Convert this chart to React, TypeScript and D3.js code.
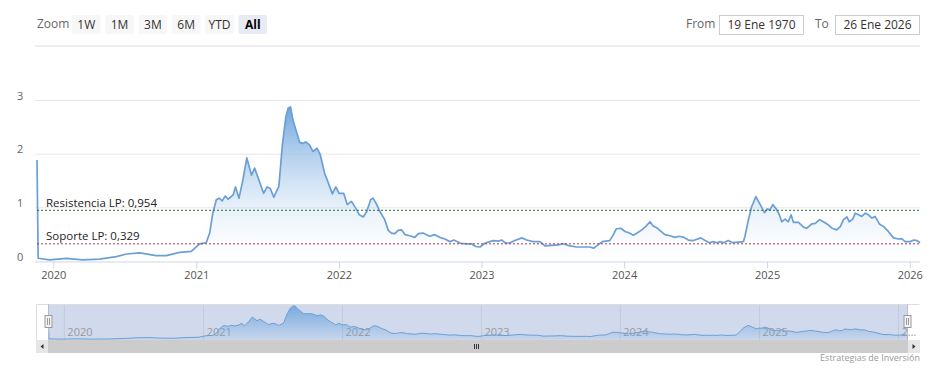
import * as React from 'react';
import * as d3 from 'd3';

const dates = [
  '2019-11-19', '2019-11-22', '2019-12-21', '2020-02-02', '2020-03-15', '2020-04-27', '2020-06-09', '2020-07-05',
  '2020-08-08', '2020-09-19', '2020-10-15', '2020-11-18', '2020-12-18', '2021-01-08', '2021-01-25', '2021-02-03',
  '2021-02-11', '2021-02-20', '2021-02-27', '2021-03-07', '2021-03-15', '2021-03-22', '2021-04-04', '2021-04-10',
  '2021-04-19', '2021-04-29', '2021-05-09', '2021-05-21', '2021-05-29', '2021-06-09', '2021-06-21', '2021-06-30',
  '2021-07-08', '2021-07-17', '2021-07-30', '2021-08-08', '2021-08-17', '2021-08-23', '2021-08-29', '2021-09-04',
  '2021-09-13', '2021-09-21', '2021-09-30', '2021-10-07', '2021-10-17', '2021-10-25', '2021-11-05', '2021-11-13',
  '2021-11-24', '2021-12-07', '2021-12-14', '2021-12-23', '2021-12-31', '2022-01-12', '2022-01-21', '2022-02-01',
  '2022-02-12', '2022-02-21', '2022-03-03', '2022-03-12', '2022-03-22', '2022-03-28', '2022-04-06', '2022-04-14',
  '2022-04-27', '2022-05-06', '2022-05-14', '2022-05-23', '2022-05-31', '2022-06-09', '2022-06-18', '2022-06-30',
  '2022-07-13', '2022-07-22', '2022-08-03', '2022-08-20', '2022-09-02', '2022-09-15', '2022-09-28', '2022-10-11',
  '2022-10-21', '2022-11-07', '2022-11-22', '2022-12-05', '2022-12-16', '2022-12-27', '2023-01-08', '2023-01-21',
  '2023-01-30', '2023-02-12', '2023-02-20', '2023-03-03', '2023-03-14', '2023-03-26', '2023-04-13', '2023-04-25',
  '2023-05-12', '2023-05-29', '2023-06-11', '2023-06-28', '2023-07-15', '2023-07-28', '2023-08-14', '2023-08-31',
  '2023-09-17', '2023-10-04', '2023-10-14', '2023-10-25', '2023-11-05', '2023-11-24', '2023-12-03', '2023-12-11',
  '2023-12-22', '2024-01-02', '2024-01-13', '2024-01-23', '2024-02-02', '2024-02-14', '2024-02-25', '2024-03-06',
  '2024-03-14', '2024-03-23', '2024-03-31', '2024-04-13', '2024-04-26', '2024-05-09', '2024-05-20', '2024-06-01',
  '2024-06-12', '2024-06-25', '2024-07-14', '2024-07-25', '2024-08-05', '2024-08-15', '2024-08-24', '2024-09-01',
  '2024-09-11', '2024-09-22', '2024-10-04', '2024-10-18', '2024-10-31', '2024-11-04', '2024-11-13', '2024-11-21',
  '2024-12-02', '2024-12-13', '2024-12-24', '2024-12-31', '2025-01-07', '2025-01-14', '2025-01-23', '2025-01-31',
  '2025-02-06', '2025-02-15', '2025-02-23', '2025-03-02', '2025-03-08', '2025-03-21', '2025-04-03', '2025-04-11',
  '2025-04-24', '2025-05-03', '2025-05-14', '2025-05-26', '2025-06-06', '2025-06-15', '2025-06-27', '2025-07-06',
  '2025-07-14', '2025-07-23', '2025-07-29', '2025-08-07', '2025-08-13', '2025-08-22', '2025-08-30', '2025-09-08',
  '2025-09-16', '2025-09-25', '2025-10-03', '2025-10-14', '2025-10-25', '2025-11-06', '2025-11-19', '2025-12-02',
  '2025-12-11', '2025-12-19', '2026-01-01', '2026-01-10', '2026-01-18', '2026-01-26',
];

const values = [
  1.89, 0.06, 0.03, 0.06, 0.03, 0.045, 0.09, 0.14,
  0.16, 0.11, 0.11, 0.17, 0.19, 0.33, 0.35, 0.53,
  0.90, 1.15, 1.18, 1.13, 1.22, 1.16, 1.24, 1.39,
  1.18, 1.52, 1.93, 1.61, 1.74, 1.52, 1.27, 1.39,
  1.36, 1.20, 1.40, 2.17, 2.70, 2.86, 2.88, 2.64,
  2.42, 2.22, 2.20, 2.23, 2.17, 2.05, 2.11, 1.99,
  1.65, 1.40, 1.26, 1.39, 1.27, 1.27, 1.06, 1.12,
  0.99, 0.87, 0.83, 0.93, 1.15, 1.18, 1.07, 0.94,
  0.78, 0.58, 0.53, 0.52, 0.58, 0.59, 0.50, 0.48,
  0.45, 0.52, 0.53, 0.47, 0.50, 0.45, 0.42, 0.37,
  0.40, 0.34, 0.33, 0.33, 0.28, 0.27, 0.34, 0.37,
  0.39, 0.38, 0.40, 0.34, 0.35, 0.39, 0.44, 0.40,
  0.37, 0.37, 0.29, 0.30, 0.31, 0.33, 0.29, 0.27,
  0.27, 0.27, 0.25, 0.31, 0.37, 0.39, 0.50, 0.61,
  0.62, 0.56, 0.53, 0.49, 0.53, 0.59, 0.66, 0.74,
  0.66, 0.63, 0.58, 0.50, 0.48, 0.45, 0.47, 0.45,
  0.40, 0.39, 0.44, 0.39, 0.35, 0.37, 0.35, 0.37,
  0.35, 0.39, 0.35, 0.36, 0.37, 0.47, 0.78, 1.02,
  1.21, 1.06, 0.91, 0.98, 0.96, 1.06, 0.98, 0.87,
  0.74, 0.79, 0.74, 0.87, 0.73, 0.73, 0.64, 0.62,
  0.70, 0.71, 0.78, 0.73, 0.68, 0.62, 0.59, 0.65,
  0.78, 0.83, 0.74, 0.79, 0.90, 0.87, 0.84, 0.90,
  0.87, 0.81, 0.84, 0.70, 0.65, 0.56, 0.44, 0.42,
  0.42, 0.37, 0.37, 0.40, 0.39, 0.35,
];

const yTicks = [0, 1, 2, 3];
const yearTicks = [2020, 2021, 2022, 2023, 2024, 2025, 2026];
const rangeButtons = ['1W', '1M', '3M', '6M', 'YTD', 'All'];
const plotLineValues = [0.954, 0.329];
const plotLineLabels = ['Resistencia LP: 0,954', 'Soporte LP: 0,329'];
const plotLineColors = ['#2f6e36', '#a8384c'];
const fromDate = '19 Ene 1970';
const toDate = '26 Ene 2026';

const W = 938, H = 375;
const FONT = '"Open Sans", "DejaVu Sans", sans-serif';

export default function App() {
  const parse = d3.timeParse('%Y-%m-%d');
  const data = dates.map((d, i) => ({ date: parse(d) as Date, value: values[i] }));

  const left = 37, right = 920;
  const x = d3.scaleTime()
    .domain(d3.extent(data, d => d.date) as [Date, Date])
    .range([left, right]);
  const y = d3.scaleLinear().domain([0, 3]).range([261.5, 100.5]);

  const navX = d3.scaleTime().domain(x.domain()).range([48, 908]);
  const navY = d3.scaleLinear().domain([0, 3]).range([339.5, 304.5]);

  const line = d3.line<any>().x(d => x(d.date)).y(d => y(d.value));
  const area = d3.area<any>().x(d => x(d.date)).y0(y(0)).y1(d => y(d.value));
  const navLine = d3.line<any>().x(d => navX(d.date)).y(d => navY(d.value));
  const navArea = d3.area<any>().x(d => navX(d.date)).y0(navY(0)).y1(d => navY(d.value));

  const btnStep = 33.3;

  return (
    <svg width={W} height={H} style={{ position: 'absolute', left: 0, top: 0, fontFamily: FONT }}>
      <defs>
        <linearGradient id="areaGrad" x1="0" y1="0" x2="0" y2="1">
          <stop offset="0" stopColor="#6ea6dd" stopOpacity={1} />
          <stop offset="1" stopColor="#ffffff" stopOpacity={0.2} />
        </linearGradient>
        <linearGradient id="navGrad" x1="0" y1="0" x2="0" y2="1">
          <stop offset="0" stopColor="#6ea6dd" stopOpacity={0.9} />
          <stop offset="1" stopColor="#6ea6dd" stopOpacity={0.1} />
        </linearGradient>
      </defs>
      <rect width={W} height={H} fill="#fff" />

      {/* range selector */}
      <text x={37} y={28} fontSize={12} fill="#666">Zoom</text>
      {rangeButtons.map((b, i) => (
        <g key={b}>
          <rect x={72 + i * btnStep} y={15} width={28.5} height={19} rx={2}
            fill={b === 'All' ? '#e6ebf5' : '#f7f7f7'} />
          <text x={72 + i * btnStep + 14.25} y={28.5} fontSize={12} textAnchor="middle"
            fill={b === 'All' ? '#000' : '#333'} fontWeight={b === 'All' ? 'bold' : 'normal'}>{b}</text>
        </g>
      ))}
      <text x={686} y={28} fontSize={12} fill="#666">From</text>
      <rect x={719.5} y={15.5} width={84} height={19} fill="#fff" stroke="#ccc" />
      <text x={761.5} y={29} fontSize={12} textAnchor="middle" fill="#333">{fromDate}</text>
      <text x={815} y={28} fontSize={12} fill="#666">To</text>
      <rect x={835.5} y={15.5} width={84} height={19} fill="#fff" stroke="#ccc" />
      <text x={877.5} y={29} fontSize={12} textAnchor="middle" fill="#333">{toDate}</text>

      {/* grid */}
      <line x1={35} x2={right} y1={46} y2={46} stroke="#eee" strokeWidth={2} />
      {yTicks.filter(t => t > 0).map(t => (
        <line key={t} x1={35} x2={right} y1={y(t)} y2={y(t)} stroke="#e6e6e6" />
      ))}
      {yTicks.map(t => (
        <text key={t} x={17} y={y(t) - 1} fontSize={11} fill="#666">{t}</text>
      ))}

      {/* series */}
      <path d={area(data) as string} fill="url(#areaGrad)" />
      <path d={line(data) as string} fill="none" stroke="#6b9fd5" strokeWidth={1.7} strokeLinejoin="round" />

      {/* plot lines */}
      {plotLineValues.map((v, i) => (
        <g key={v}>
          <line x1={left} x2={right} y1={y(v)} y2={y(v)} stroke={plotLineColors[i]}
            strokeWidth={1} strokeDasharray="2,2" />
          <text x={46} y={y(v) - 3.5} fontSize={11.5} fill="#222">{plotLineLabels[i]}</text>
        </g>
      ))}

      {/* x axis */}
      <line x1={35} x2={right} y1={y(0) + 0.5} y2={y(0) + 0.5} stroke="#ccd6eb" />
      {yearTicks.map(yr => {
        const xx = x(new Date(yr, 0, 1));
        return (
          <g key={yr}>
            <line x1={xx} x2={xx} y1={y(0)} y2={y(0) + 7} stroke="#ccd6eb" />
            <text x={xx} y={279} fontSize={11} textAnchor="middle" fill="#555">{yr}</text>
          </g>
        );
      })}

      {/* navigator */}
      <rect x={48} y={304} width={860} height={36} fill="rgba(102,133,194,0.3)" />
      {yearTicks.map(yr => {
        const xx = navX(new Date(yr, 0, 1));
        return (
          <g key={yr}>
            <line x1={xx} x2={xx} y1={304} y2={340} stroke="#c4cad8" />
            <text x={xx + 3} y={336} fontSize={11} fill="#999">{yr === 2026 ? '2…' : yr}</text>
          </g>
        );
      })}
      <path d={navArea(data) as string} fill="url(#navGrad)" />
      <path d={navLine(data) as string} fill="none" stroke="#6b9fd5" strokeWidth={1} />
      <path d="M36.5,340 L36.5,304.5 L919.5,304.5" fill="none" stroke="#ddd" />
      <line x1={48.5} x2={48.5} y1={304} y2={340} stroke="#b5bdd0" />
      <line x1={907.5} x2={907.5} y1={304} y2={340} stroke="#b5bdd0" />
      {[48.5, 907.5].map(hx => (
        <g key={hx}>
          <rect x={hx - 3.5} y={315.5} width={7} height={12} fill="#f2f2f2" stroke="#999" />
          <line x1={hx - 1} x2={hx - 1} y1={318} y2={325} stroke="#999" />
          <line x1={hx + 1} x2={hx + 1} y1={318} y2={325} stroke="#999" />
        </g>
      ))}

      {/* scrollbar */}
      <rect x={36} y={340} width={884} height={13} fill="#f2f2f2" />
      <rect x={48} y={340} width={860} height={13} fill="#cccccc" />
      <rect x={36} y={340} width={12} height={13} fill="#e6e6e6" />
      <rect x={908} y={340} width={12} height={13} fill="#e6e6e6" />
      <path d="M43.5,344 L40.5,346.5 L43.5,349 Z" fill="#333" />
      <path d="M912.5,344 L915.5,346.5 L912.5,349 Z" fill="#333" />
      {[-2, 0, 2].map(o => (
        <line key={o} x1={476 + o + 0.5} x2={476 + o + 0.5} y1={344} y2={349} stroke="#333" />
      ))}

      <text x={920} y={361} fontSize={9} textAnchor="end" fill="#999">Estrategias de Inversión</text>
    </svg>
  );
}
